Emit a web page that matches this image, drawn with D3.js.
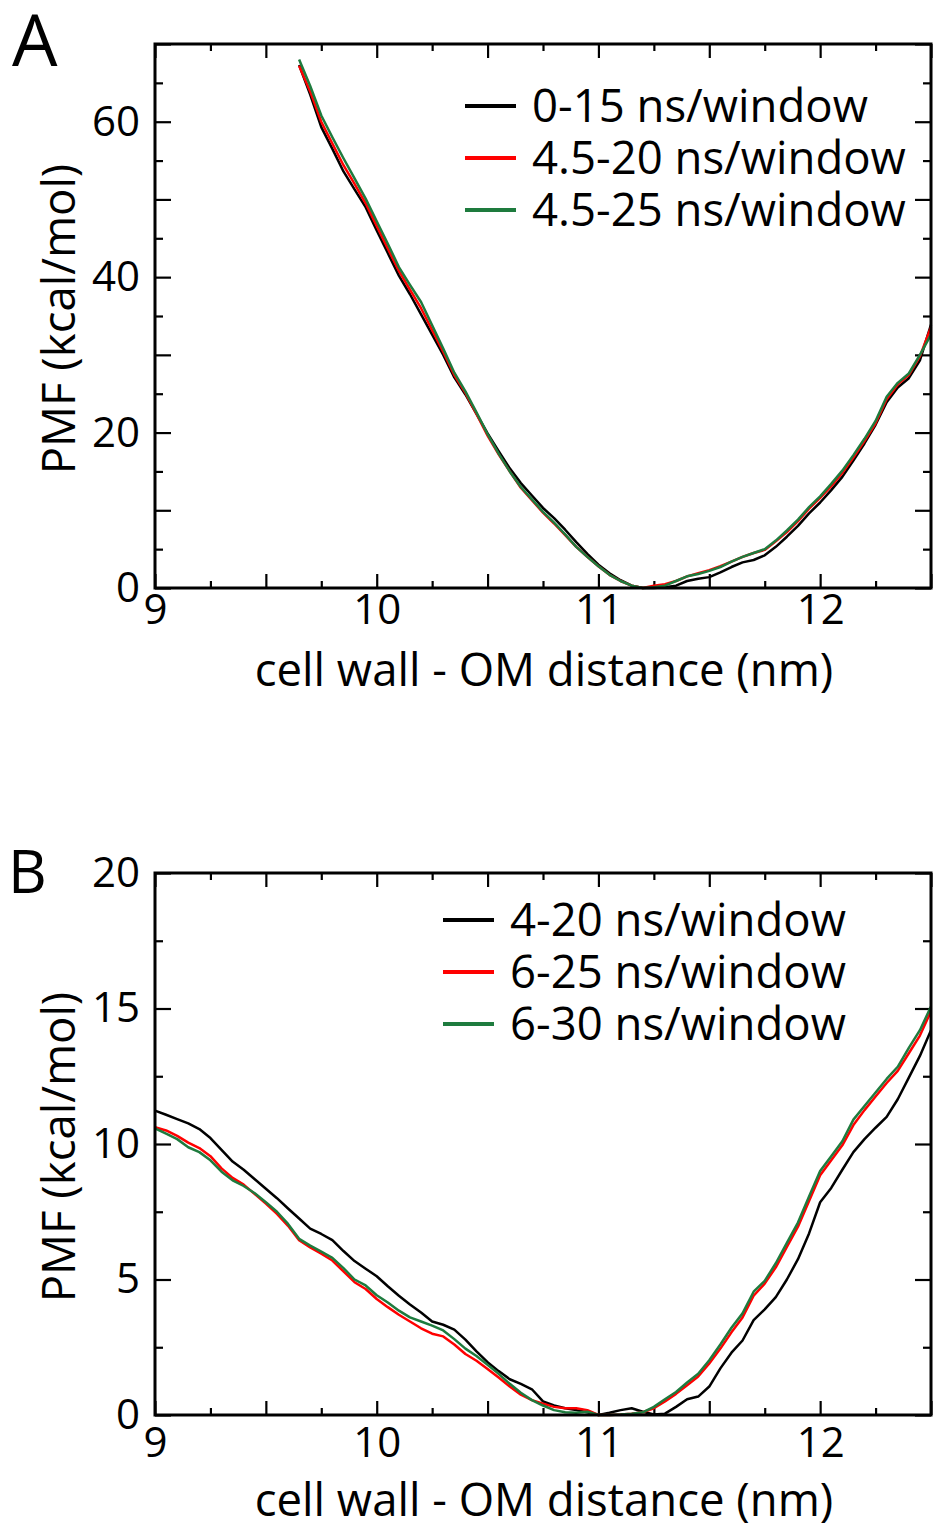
<!DOCTYPE html>
<html>
<head>
<meta charset="utf-8">
<script src="https://cdn.jsdelivr.net/npm/d3@7"></script>
<style>
  body { margin: 0; background: #fff; }
  svg { display: block; }
</style>
</head>
<body>
<svg id="fig" width="933" height="1530"></svg>
<script>
// ---- data ----
// sampling grid of the PMF profiles, nm
const distA = d3.range(965, 1251, 5).map((d) => d / 100); // 9.65 .. 12.50
const distB = d3.range(900, 1251, 5).map((d) => d / 100); // 9.00 .. 12.50

// panel A, PMF in kcal/mol
const pmfA_0_15 = [
  67.3, 63.5, 59.3, 56.5, 53.6, 51.3, 49.0, 46.0, 43.1, 40.2,
  37.8, 35.2, 32.6, 30.0, 27.1, 24.9, 22.4, 19.9, 17.6, 15.4,
  13.5, 11.9, 10.3, 9.0, 7.5, 5.9, 4.4, 3.0, 1.9, 1.0,
  0.3, 0.0, 0.0, 0.1, 0.3, 0.9, 1.2, 1.4, 2.0, 2.7,
  3.3, 3.6, 4.2, 5.3, 6.6, 8.0, 9.6, 11.0, 12.6, 14.3,
  16.4, 18.6, 21.0, 23.9, 25.8, 27.0, 29.3, 33.9
];
const pmfA_45_20 = [
  67.2, 63.9, 60.0, 57.2, 54.4, 52.0, 49.5, 46.6, 43.7, 40.8,
  38.4, 36.0, 33.2, 30.4, 27.4, 25.1, 22.4, 19.6, 17.2, 15.0,
  12.9, 11.3, 9.7, 8.3, 6.8, 5.3, 4.0, 2.8, 1.7, 0.9,
  0.3, 0.0, 0.3, 0.5, 0.9, 1.5, 1.9, 2.3, 2.8, 3.4,
  4.0, 4.5, 4.9, 6.0, 7.2, 8.6, 10.2, 11.6, 13.1, 14.8,
  16.8, 18.9, 21.2, 24.3, 26.2, 27.4, 29.8, 33.6
];
const pmfA_45_25 = [
  68.0, 64.6, 60.8, 58.0, 55.3, 52.7, 50.1, 47.2, 44.3, 41.3,
  39.0, 36.8, 33.8, 30.8, 27.7, 25.3, 22.6, 19.8, 17.3, 15.0,
  13.0, 11.4, 9.8, 8.4, 6.9, 5.3, 4.0, 2.8, 1.7, 0.9,
  0.3, 0.0, 0.1, 0.3, 0.9, 1.5, 1.8, 2.2, 2.7, 3.4,
  4.0, 4.5, 5.0, 6.1, 7.4, 8.8, 10.4, 11.8, 13.4, 15.1,
  17.1, 19.2, 21.5, 24.6, 26.4, 27.6, 30.0, 32.6
];

// panel B, PMF in kcal/mol
const pmfB_4_20 = [
  11.23, 11.08, 10.92, 10.76, 10.55, 10.22, 9.78, 9.35, 9.05, 8.70,
  8.35, 8.00, 7.62, 7.25, 6.88, 6.68, 6.45, 6.05, 5.68, 5.40,
  5.12, 4.75, 4.40, 4.08, 3.78, 3.45, 3.33, 3.15, 2.78, 2.35,
  1.95, 1.62, 1.32, 1.15, 0.95, 0.50, 0.35, 0.25, 0.18, 0.10,
  0.00, 0.08, 0.18, 0.25, 0.12, 0.02, 0.05, 0.30, 0.58, 0.68,
  1.05, 1.72, 2.30, 2.75, 3.50, 3.90, 4.35, 5.00, 5.75, 6.70,
  7.85, 8.38, 9.05, 9.70, 10.18, 10.60, 11.00, 11.65, 12.45, 13.25,
  14.20
];
const pmfB_6_25 = [
  10.62, 10.50, 10.30, 10.05, 9.85, 9.55, 9.10, 8.75, 8.50, 8.15,
  7.80, 7.42, 6.98, 6.45, 6.18, 5.95, 5.70, 5.30, 4.90, 4.65,
  4.28, 3.98, 3.70, 3.45, 3.20, 3.00, 2.90, 2.60, 2.25, 2.00,
  1.70, 1.38, 1.05, 0.75, 0.55, 0.42, 0.30, 0.25, 0.25, 0.18,
  0.00, 0.00, 0.02, 0.05, 0.10, 0.25, 0.50, 0.78, 1.10, 1.42,
  1.90, 2.45, 3.05, 3.60, 4.40, 4.85, 5.45, 6.20, 6.95, 7.90,
  8.85, 9.40, 9.95, 10.70, 11.25, 11.75, 12.25, 12.70, 13.35, 14.00,
  14.90
];
const pmfB_6_30 = [
  10.58, 10.38, 10.18, 9.88, 9.70, 9.40, 8.98, 8.66, 8.45, 8.18,
  7.85, 7.50, 7.05, 6.50, 6.25, 6.03, 5.80, 5.42, 5.00, 4.78,
  4.42, 4.15, 3.85, 3.60, 3.45, 3.30, 3.12, 2.80, 2.45, 2.18,
  1.85, 1.52, 1.15, 0.82, 0.55, 0.35, 0.18, 0.10, 0.08, 0.12,
  0.00, 0.00, 0.02, 0.05, 0.10, 0.30, 0.58, 0.85, 1.20, 1.52,
  2.02, 2.60, 3.22, 3.75, 4.55, 4.95, 5.60, 6.35, 7.10, 8.06,
  9.00, 9.55, 10.10, 10.90, 11.40, 11.90, 12.40, 12.85, 13.55, 14.20,
  15.07
];

const labelsA = ["0-15 ns/window", "4.5-20 ns/window", "4.5-25 ns/window"];
const labelsB = ["4-20 ns/window", "6-25 ns/window", "6-30 ns/window"];
const lineColors = ["#000000", "#ff0000", "#1e7b3e"];

const xTitle = "cell wall - OM distance (nm)";
const yTitle = "PMF (kcal/mol)";

// ---- drawing ----
const FONT = '"Open Sans", "Noto Sans", sans-serif';
const svg = d3.select("#fig");
svg.append("rect").attr("width", 933).attr("height", 1530).attr("fill", "#fff");

function panel(p) {
  const x = d3.scaleLinear().domain([9, 12.5]).range([155, 931]);
  const y = d3.scaleLinear().domain(p.yDomain).range([p.bottom, p.top]);
  const g = svg.append("g");

  const xMajor = d3.range(9, 12.51, 0.5);
  const xMinor = d3.range(9.25, 12.5, 0.5);
  const yMajor = d3.range(p.yDomain[0], p.yDomain[1] + 0.01, p.yStep);
  const yMinor = d3.range(p.yDomain[0] + p.yStep / 2, p.yDomain[1], p.yStep);

  const styleAxis = (sel) => {
    sel.select(".domain").remove();
    sel.selectAll(".tick line").attr("stroke", "#000").attr("stroke-width", 2.2);
    sel.selectAll("text")
      .attr("fill", "#000")
      .style("font-family", FONT)
      .style("font-size", "42px");
  };

  // bottom
  g.append("g")
    .attr("transform", `translate(0,${p.bottom})`)
    .call(d3.axisBottom(x).tickValues(xMajor).tickSize(-14).tickPadding(p.xPad)
      .tickFormat((d) => (Number.isInteger(d) ? d : "")))
    .call(styleAxis);
  g.append("g")
    .attr("transform", `translate(0,${p.bottom})`)
    .call(d3.axisBottom(x).tickValues(xMinor).tickSize(-7).tickFormat(""))
    .call(styleAxis);
  // top
  g.append("g")
    .attr("transform", `translate(0,${p.top})`)
    .call(d3.axisTop(x).tickValues(xMajor).tickSize(-14).tickFormat(""))
    .call(styleAxis);
  g.append("g")
    .attr("transform", `translate(0,${p.top})`)
    .call(d3.axisTop(x).tickValues(xMinor).tickSize(-7).tickFormat(""))
    .call(styleAxis);
  // left
  g.append("g")
    .attr("transform", "translate(155,0)")
    .call(d3.axisLeft(y).tickValues(yMajor).tickSize(-16).tickPadding(15)
      .tickFormat((d) => (p.yLabels.includes(d) ? d : "")))
    .call(styleAxis);
  g.append("g")
    .attr("transform", "translate(155,0)")
    .call(d3.axisLeft(y).tickValues(yMinor).tickSize(-8).tickFormat(""))
    .call(styleAxis);
  // right
  g.append("g")
    .attr("transform", "translate(931,0)")
    .call(d3.axisRight(y).tickValues(yMajor).tickSize(-16).tickFormat(""))
    .call(styleAxis);
  g.append("g")
    .attr("transform", "translate(931,0)")
    .call(d3.axisRight(y).tickValues(yMinor).tickSize(-8).tickFormat(""))
    .call(styleAxis);

  // curves
  const line = d3.line().x((d) => x(d[0])).y((d) => y(d[1]));
  p.series.forEach((s, i) => {
    g.append("path")
      .datum(p.dist.map((d, j) => [d, s[j]]))
      .attr("fill", "none")
      .attr("stroke", lineColors[i])
      .attr("stroke-width", 2.5)
      .attr("stroke-linejoin", "round")
      .attr("d", line);
  });

  // frame
  g.append("rect")
    .attr("x", 155).attr("y", p.top)
    .attr("width", 931 - 155).attr("height", p.bottom - p.top)
    .attr("fill", "none").attr("stroke", "#000").attr("stroke-width", 3);

  // legend
  const leg = g.append("g").attr("transform", `translate(${p.legX},${p.legY})`);
  p.labels.forEach((t, i) => {
    leg.append("line")
      .attr("x1", 0).attr("x2", 51)
      .attr("y1", i * 52).attr("y2", i * 52)
      .attr("stroke", lineColors[i]).attr("stroke-width", 4);
    leg.append("text")
      .attr("x", 67).attr("y", i * 52 + 16)
      .style("font-family", FONT).style("font-size", "45.5px")
      .text(t);
  });

  // axis titles
  g.append("text")
    .attr("x", 544).attr("y", p.xTitleY)
    .attr("text-anchor", "middle")
    .style("font-family", FONT).style("font-size", "45.5px")
    .text(xTitle);
  g.append("text")
    .attr("transform", `translate(75,${(p.top + p.bottom) / 2 + 3}) rotate(-90)`)
    .attr("text-anchor", "middle")
    .style("font-family", FONT).style("font-size", "45.5px")
    .text(yTitle);

  // panel letter
  g.append("text")
    .attr("x", p.letterX).attr("y", p.letterY)
    .style("font-family", FONT).style("font-size", p.letterSize + "px")
    .text(p.letter);
}

panel({
  top: 44, bottom: 588, yDomain: [0, 70], yStep: 10, yLabels: [0, 20, 40, 60],
  xPad: 6, dist: distA, series: [pmfA_0_15, pmfA_45_20, pmfA_45_25],
  labels: labelsA, legX: 465, legY: 106, xTitleY: 686,
  letter: "A", letterX: 12, letterY: 66, letterSize: 72
});

panel({
  top: 873, bottom: 1415, yDomain: [0, 20], yStep: 5, yLabels: [0, 5, 10, 15, 20],
  xPad: 12, dist: distB, series: [pmfB_4_20, pmfB_6_25, pmfB_6_30],
  labels: labelsB, legX: 443, legY: 920, xTitleY: 1516,
  letter: "B", letterX: 8, letterY: 893, letterSize: 60
});
</script>
</body>
</html>
